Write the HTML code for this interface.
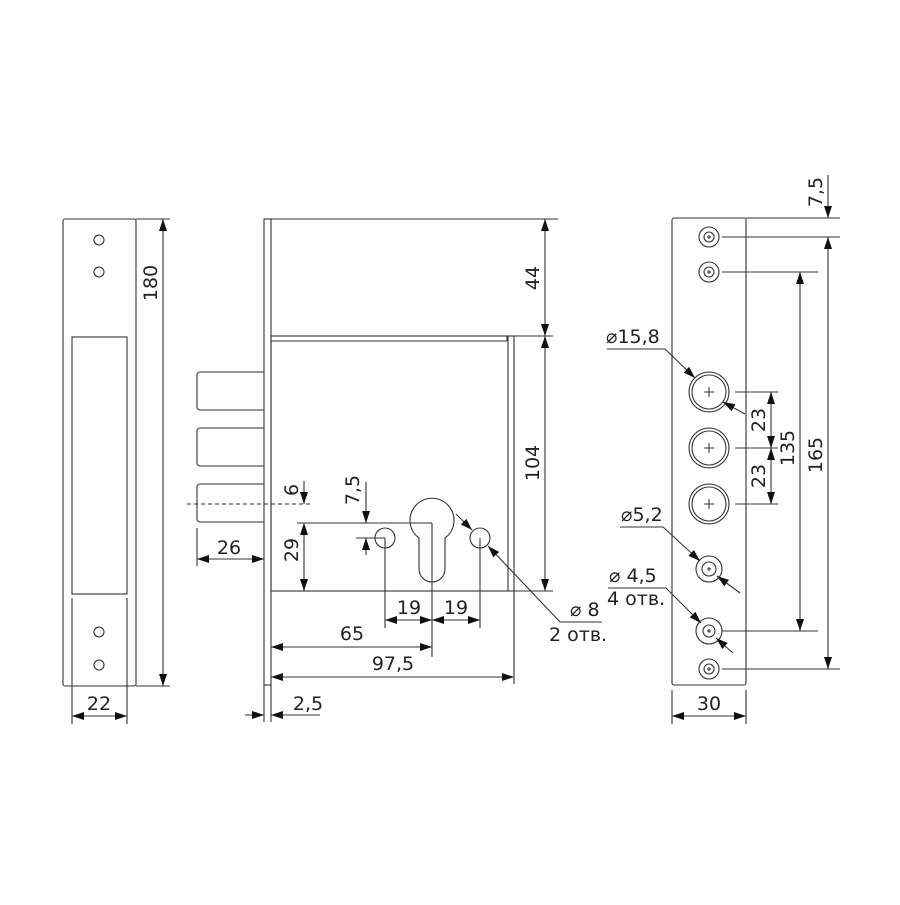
<!DOCTYPE html>
<html><head><meta charset="utf-8"><style>
html,body{margin:0;padding:0;background:#fff}
text{font-family:"DejaVu Sans","Liberation Sans",sans-serif;font-size:19px;fill:#222}
</style></head><body>
<svg width="900" height="900" viewBox="0 0 900 900" xmlns="http://www.w3.org/2000/svg">
<defs>
<marker id="a" viewBox="0 0 12 8" refX="12" refY="4" markerWidth="12" markerHeight="8" markerUnits="userSpaceOnUse" orient="auto-start-reverse"><path d="M0,0L12,4L0,8z" fill="#111"/></marker>
</defs>
<g fill="none" stroke="#333" stroke-width="1.1">
<rect x="63" y="219" width="73" height="467" rx="2"/>
<rect x="72" y="337" width="55" height="257"/>
<line x1="72" y1="598" x2="72" y2="724"/><line x1="127" y1="598" x2="127" y2="724"/>
<circle cx="99" cy="240" r="5"/><circle cx="99" cy="272" r="5"/>
<circle cx="99" cy="632" r="5"/><circle cx="99" cy="665" r="5"/>
<line x1="136" y1="219" x2="170" y2="219"/><line x1="136" y1="686" x2="170" y2="686"/>
<line x1="163" y1="219" x2="163" y2="686" marker-start="url(#a)" marker-end="url(#a)"/>
<line x1="72" y1="716" x2="127" y2="716" marker-start="url(#a)" marker-end="url(#a)"/>

<rect x="264" y="219" width="7" height="466"/>
<line x1="271" y1="219" x2="558" y2="219"/>
<rect x="271" y="336" width="243" height="255"/>
<line x1="271" y1="341" x2="507" y2="341"/><line x1="507" y1="336" x2="507" y2="341"/>
<line x1="508" y1="336" x2="508" y2="591"/>
<line x1="514" y1="336" x2="553" y2="336"/><line x1="514" y1="591" x2="553" y2="591"/>
<line x1="545" y1="219" x2="545" y2="336" marker-start="url(#a)" marker-end="url(#a)"/>
<line x1="545" y1="336" x2="545" y2="591" marker-start="url(#a)" marker-end="url(#a)"/>
<path d="M264,372H200a3,3 0 0 0 -3,3V407a3,3 0 0 0 3,3H264"/>
<path d="M264,428H200a3,3 0 0 0 -3,3V463a3,3 0 0 0 3,3H264"/>
<path d="M264,484H200a3,3 0 0 0 -3,3V519a3,3 0 0 0 3,3H264"/>
<line x1="187" y1="504" x2="312" y2="504" stroke-dasharray="4,3"/>
<line x1="197" y1="528" x2="197" y2="566"/>
<line x1="197" y1="559" x2="264" y2="559" marker-start="url(#a)" marker-end="url(#a)"/>
<line x1="297" y1="523" x2="432" y2="523"/>
<line x1="304" y1="481" x2="304" y2="504" marker-end="url(#a)"/>
<line x1="304" y1="523" x2="304" y2="591" marker-start="url(#a)" marker-end="url(#a)"/>
<line x1="366" y1="482" x2="366" y2="523" marker-end="url(#a)"/>
<line x1="366" y1="555" x2="366" y2="538" marker-end="url(#a)"/>
<line x1="356" y1="538" x2="385" y2="538"/>
<path d="M419,538 A22,22 0 1 1 445,538 V569 A13,13 0 0 1 419,569 Z"/>
<circle cx="385" cy="538" r="10"/><circle cx="480" cy="538" r="10"/>
<line x1="385" y1="538" x2="385" y2="628"/><line x1="432" y1="523" x2="432" y2="657"/><line x1="480" y1="538" x2="480" y2="628"/>
<line x1="385" y1="620" x2="432" y2="620" marker-start="url(#a)" marker-end="url(#a)"/>
<line x1="432" y1="620" x2="480" y2="620" marker-start="url(#a)" marker-end="url(#a)"/>
<line x1="271" y1="647" x2="432" y2="647" marker-start="url(#a)" marker-end="url(#a)"/>
<line x1="514" y1="591" x2="514" y2="684"/>
<line x1="271" y1="677" x2="514" y2="677" marker-start="url(#a)" marker-end="url(#a)"/>
<line x1="264" y1="685" x2="264" y2="722"/><line x1="271" y1="685" x2="271" y2="722"/>
<line x1="245" y1="715" x2="264" y2="715" marker-end="url(#a)"/>
<line x1="320" y1="715" x2="271" y2="715" marker-end="url(#a)"/>
<line x1="456" y1="514" x2="472" y2="530" marker-end="url(#a)"/>
<line x1="560" y1="622" x2="488" y2="546" marker-end="url(#a)"/>
<line x1="560" y1="622" x2="602" y2="622"/>

<rect x="672" y="218" width="74" height="467" rx="2"/>
<circle cx="709" cy="237" r="10"/><circle cx="709" cy="237" r="5"/>
<circle cx="709" cy="272" r="10"/><circle cx="709" cy="272" r="5"/>
<circle cx="709" cy="669" r="10"/><circle cx="709" cy="669" r="5"/>
<circle cx="709" cy="392" r="20"/><circle cx="709" cy="392" r="17"/>
<circle cx="709" cy="448" r="20"/><circle cx="709" cy="448" r="17"/>
<circle cx="709" cy="504" r="20"/><circle cx="709" cy="504" r="17"/>
<circle cx="709" cy="569" r="13"/><circle cx="709" cy="569" r="7"/>
<circle cx="709" cy="631" r="13"/><circle cx="709" cy="631" r="6"/>
<path d="M704,392h10M709,387v10M704,448h10M709,443v10M704,504h10M709,499v10M707,237h4M709,235v4M707,272h4M709,270v4M707,669h4M709,667v4M707,569h4M709,567v4M707,631h4M709,629v4"/>
<line x1="746" y1="218" x2="840" y2="218"/>
<line x1="722" y1="237" x2="840" y2="237"/>
<line x1="722" y1="272" x2="818" y2="272"/>
<line x1="722" y1="631" x2="818" y2="631"/>
<line x1="722" y1="669" x2="840" y2="669"/>
<line x1="735" y1="392" x2="778" y2="392"/>
<line x1="735" y1="448" x2="778" y2="448"/>
<line x1="735" y1="504" x2="778" y2="504"/>
<line x1="828" y1="175" x2="828" y2="218" marker-end="url(#a)"/>
<line x1="828" y1="237" x2="828" y2="669" marker-start="url(#a)" marker-end="url(#a)"/>
<line x1="800" y1="272" x2="800" y2="631" marker-start="url(#a)" marker-end="url(#a)"/>
<line x1="771" y1="392" x2="771" y2="448" marker-start="url(#a)" marker-end="url(#a)"/>
<line x1="771" y1="448" x2="771" y2="504" marker-start="url(#a)" marker-end="url(#a)"/>
<line x1="672" y1="690" x2="672" y2="724"/><line x1="746" y1="690" x2="746" y2="724"/>
<line x1="672" y1="716" x2="746" y2="716" marker-start="url(#a)" marker-end="url(#a)"/>
<path d="M607,349H665L695,378" marker-end="url(#a)"/>
<line x1="745" y1="414" x2="723" y2="402" marker-end="url(#a)"/>
<path d="M620,527H663L700,561" marker-end="url(#a)"/>
<line x1="740" y1="593" x2="717" y2="576" marker-end="url(#a)"/>
<path d="M608,588H666L701,623" marker-end="url(#a)"/>
<line x1="733" y1="653" x2="716" y2="638" marker-end="url(#a)"/>
</g>
<g>
<text x="99" y="710" text-anchor="middle">22</text>
<text transform="translate(157,283) rotate(-90)" text-anchor="middle">180</text>
<text transform="translate(539,278) rotate(-90)" text-anchor="middle">44</text>
<text transform="translate(539,463) rotate(-90)" text-anchor="middle">104</text>
<text x="229" y="554" text-anchor="middle">26</text>
<text transform="translate(298,490) rotate(-90)" text-anchor="middle">6</text>
<text transform="translate(359,490) rotate(-90)" text-anchor="middle">7,5</text>
<text transform="translate(298,550) rotate(-90)" text-anchor="middle">29</text>
<text x="409" y="614" text-anchor="middle">19</text>
<text x="456" y="614" text-anchor="middle">19</text>
<text x="352" y="640" text-anchor="middle">65</text>
<text x="393" y="670" text-anchor="middle">97,5</text>
<text x="308" y="710" text-anchor="middle">2,5</text>
<text x="570" y="616">⌀ 8</text>
<text x="549" y="641">2 отв.</text>
<text transform="translate(822,192) rotate(-90)" text-anchor="middle">7,5</text>
<text transform="translate(822,455) rotate(-90)" text-anchor="middle">165</text>
<text transform="translate(794,448) rotate(-90)" text-anchor="middle">135</text>
<text transform="translate(765,420) rotate(-90)" text-anchor="middle">23</text>
<text transform="translate(765,476) rotate(-90)" text-anchor="middle">23</text>
<text x="709" y="710" text-anchor="middle">30</text>
<text x="606" y="343">⌀15,8</text>
<text x="621" y="521">⌀5,2</text>
<text x="609" y="582">⌀ 4,5</text>
<text x="607" y="605">4 отв.</text>
</g>
</svg>
</body></html>
